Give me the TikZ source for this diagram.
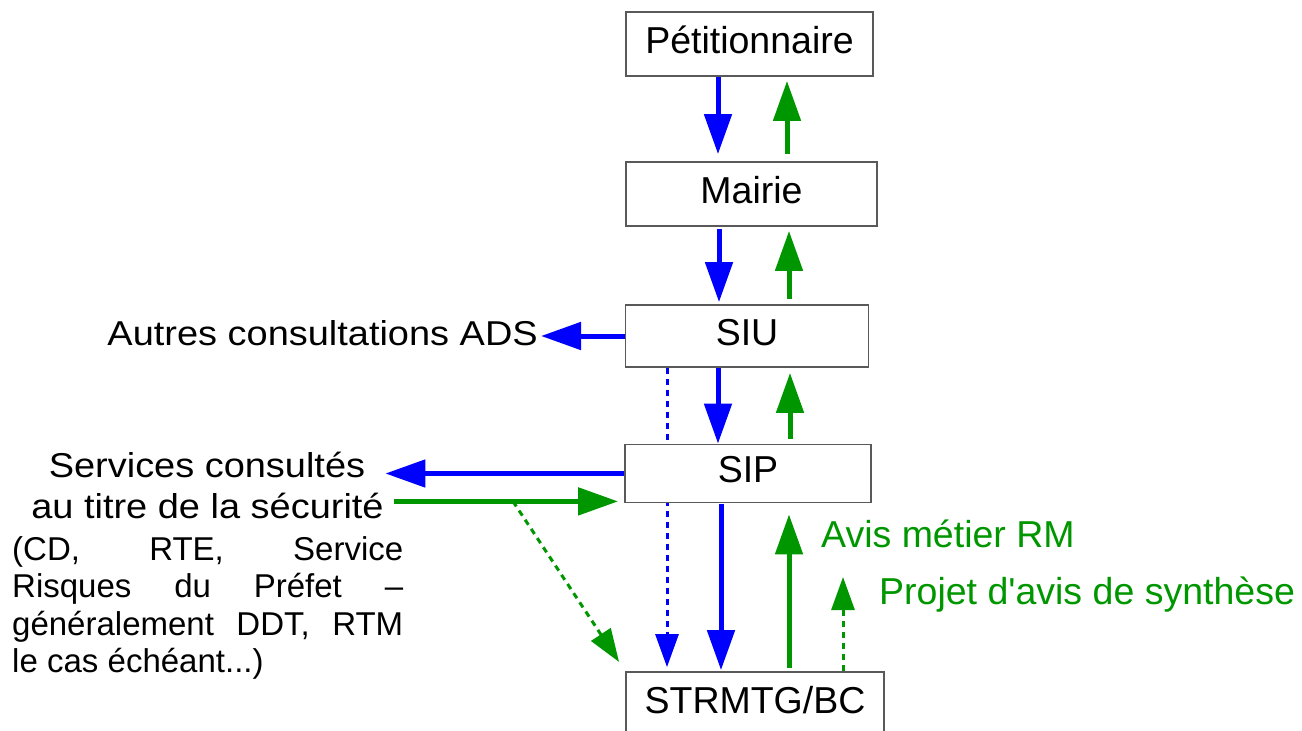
\documentclass[tikz,border=0pt]{standalone}
\usepackage{fontspec}
\setmainfont{Liberation Sans}
\newfontfamily\etire[FakeStretch=1.1]{Liberation Sans}
\usetikzlibrary{arrows.meta,backgrounds}
\definecolor{bleu}{RGB}{0,0,255}
\definecolor{vert}{RGB}{0,150,0}
\begin{document}
\begin{tikzpicture}[x=1pt,y=1pt,
  boite/.style={draw=black!65,line width=1.8pt,fill=white,inner sep=0pt,text height=27pt,text depth=9pt,font=\fontsize{37.5}{45}\selectfont},
  fl/.style={line width=5pt,-{Triangle[length=40pt,width=27pt]}},
  flp/.style={line width=3pt,dash pattern=on 6pt off 5pt,-{Triangle[length=33pt,width=23pt]}},
  gauche/.style={inner sep=0pt,font=\etire\fontsize{34.5}{41}\selectfont},
  avis/.style={inner sep=0pt,text=vert,font=\fontsize{37.5}{45}\selectfont}]
\useasboundingbox (0,0) rectangle (1302,-731);
\node[boite,minimum width=247pt,minimum height=64pt](pet) at (749.5,-44){Pétitionnaire};
\node[boite,minimum width=251pt,minimum height=64pt](mai) at (751.5,-194){Mairie};
\node[boite,minimum width=243pt,minimum height=62pt](siu) at (747,-336){SIU};
\node[boite,minimum width=246pt,minimum height=58pt](sip) at (748,-473.5){SIP};
\node[boite,minimum width=258pt,minimum height=64pt](str) at (755,-704){STRMTG/BC};
\node[gauche,anchor=base east](ads) at (538,-345){Autres consultations ADS};
\node[gauche,anchor=base](svc1) at (207,-477){Services consultés};
\node[gauche,anchor=base](svc2) at (207.5,-518){au titre de la sécurité};
\node[anchor=base west,inner sep=0pt,text width=391pt,align=justify,font=\fontsize{33}{37.5}\selectfont](prec) at (12,-560){\spaceskip=.28em plus 5em\relax (CD, RTE, Service\linebreak Risques du Préfet –\linebreak généralement DDT, RTM\linebreak le cas échéant...)};
\node[avis,anchor=base west](rm) at (821,-547){Avis métier RM};
\node[avis,anchor=base west](proj) at (879,-604){Projet d\textquotesingle avis de synthèse};
\coordinate (g) at ([yshift=2pt]sip.south west);
\coordinate (dep) at (513,0 |- g);
\coordinate (pointe) at (843,-577);
\draw[fl,bleu,shorten >=7pt](718,0 |- pet.south)--(718,0 |- mai.north);
\draw[fl,vert,shorten <=7pt,shorten >=4pt](787,0 |- mai.north)--(787,0 |- pet.south);
\draw[fl,bleu,shorten <=2pt,shorten >=2pt](719,0 |- mai.south)--(719,0 |- siu.north);
\draw[fl,vert,shorten <=5pt,shorten >=4pt](789,0 |- siu.north)--(789,0 |- mai.south);
\draw[fl,bleu](718,0 |- siu.south)--(718,0 |- sip.north);
\draw[fl,vert,shorten <=5pt,shorten >=5pt](790,0 |- sip.north)--(790,0 |- siu.south);
\draw[fl,bleu,shorten <=1pt,shorten >=1pt](721,0 |- sip.south)--(721,0 |- str.north);
\draw[fl,vert,shorten <=3pt,shorten >=11pt](789,0 |- str.north)--(789,0 |- sip.south);
\draw[flp,vert](843,0 |- str.north)--(pointe);
\draw[fl,bleu,shorten >=3pt](siu.west)--(ads.east |- siu.west);
\draw[fl,bleu,shorten >=20pt](sip.west)--(svc1.east |- sip.west);
\draw[fl,vert,shorten <=10pt,shorten >=6pt](svc2.east |- g)--(g);
\begin{scope}[on background layer]
\draw[flp,bleu,shorten >=4pt](667,0 |- siu.south)--(667,0 |- str.north);
\draw[flp,vert,shorten >=11pt](dep)--(str.north west);
\end{scope}
\end{tikzpicture}
\end{document}
